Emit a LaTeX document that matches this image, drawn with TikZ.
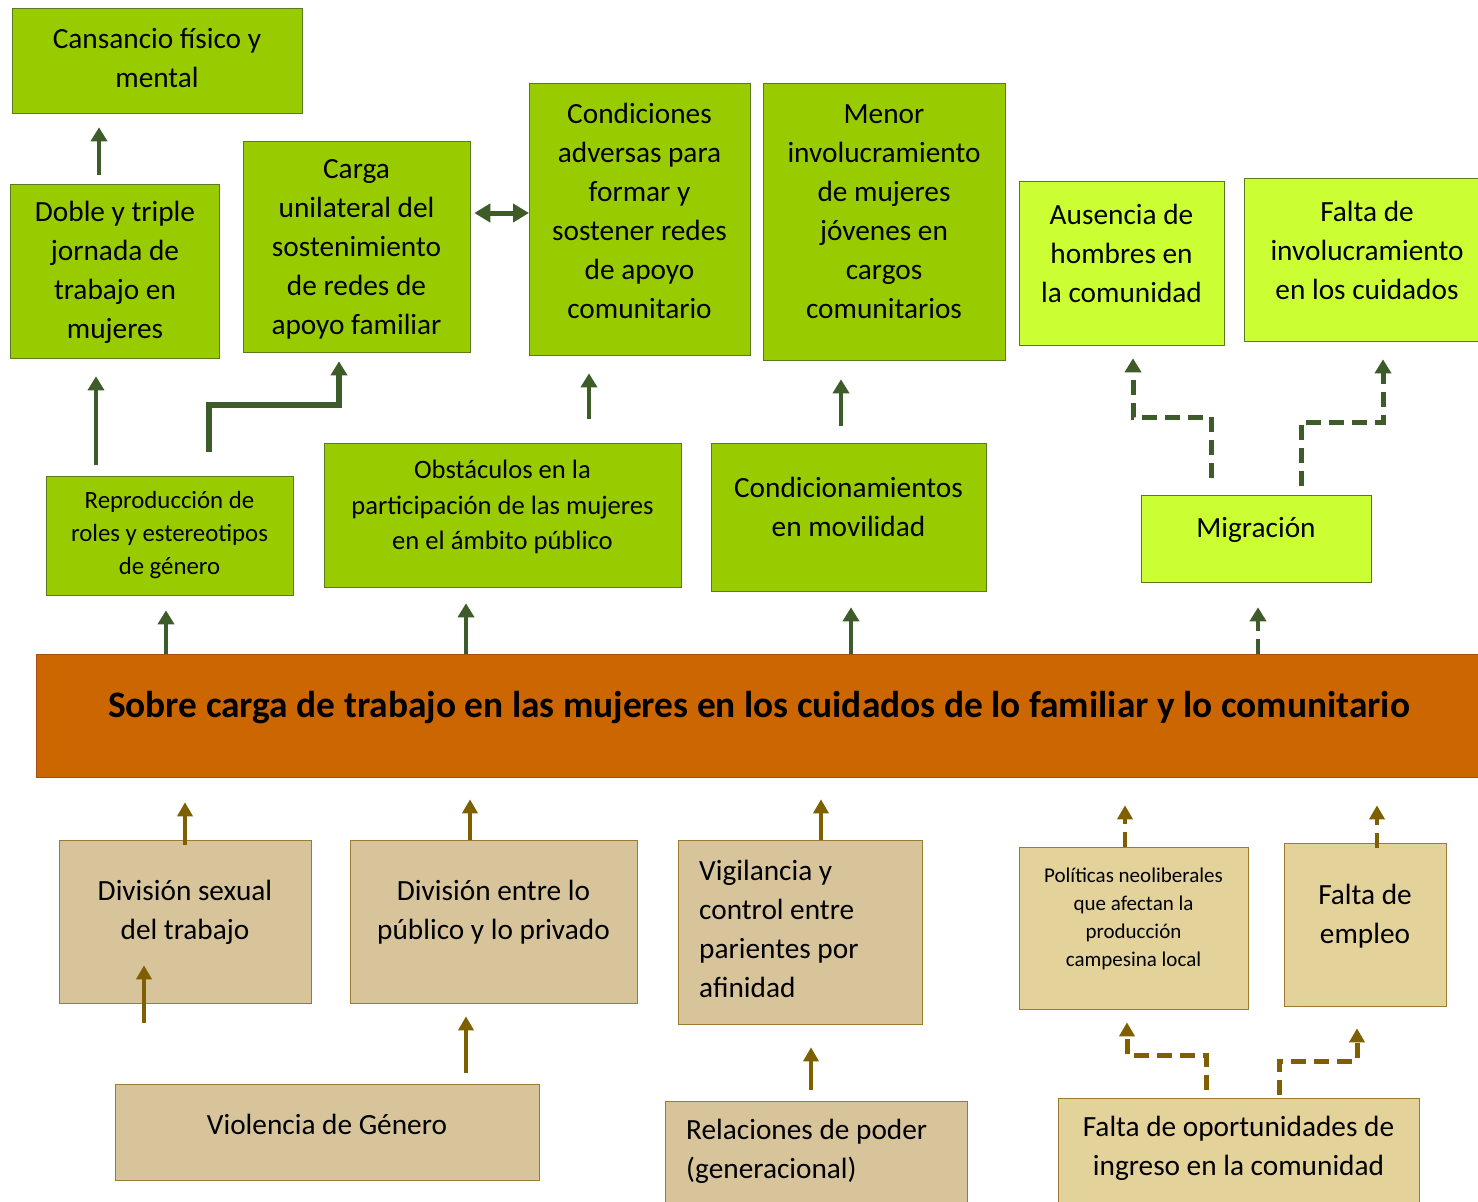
\documentclass[tikz,border=0pt]{standalone}
\usepackage{fontspec}
\setmainfont{Carlito}
\usetikzlibrary{arrows.meta}
\definecolor{gfill}{HTML}{99CC00}
\definecolor{lfill}{HTML}{CCFF33}
\definecolor{gline}{HTML}{5A7A1E}
\definecolor{garrc}{HTML}{3E5C2A}
\definecolor{ofill}{HTML}{CC6600}
\definecolor{oline}{HTML}{A0520F}
\definecolor{tfill}{HTML}{D7C49B}
\definecolor{tlfill}{HTML}{E4D29B}
\definecolor{tline}{HTML}{9A7B2F}
\definecolor{barrc}{HTML}{7F6000}
\tikzset{
  box/.style={draw, line width=1.3pt, inner sep=0pt, anchor=north west},
  gbox/.style={box, fill=gfill, draw=gline},
  lbox/.style={box, fill=lfill, draw=gline},
  obox/.style={box, fill=ofill, draw=oline},
  tbox/.style={box, fill=tfill, draw=tline},
  tlbox/.style={box, fill=tlfill, draw=tline},
  tbase/.style={align=center, inner sep=0pt, yshift=-1.5pt},
  txt/.style={tbase, font=\fontsize{29.3}{39}\selectfont},
  txtR/.style={tbase, font=\fontsize{24.8}{33}\selectfont},
  txtO/.style={tbase, font=\fontsize{26.6}{35.5}\selectfont},
  txtP/.style={tbase, font=\fontsize{21}{28}\selectfont},
  garr/.style={draw=garrc, line width=4pt, -{Triangle[width=16pt,length=14pt]}},
  barr/.style={draw=barrc, line width=4pt, -{Triangle[width=15pt,length=14pt]}},
  dsh/.style={dash pattern=on 15pt off 8pt},
  elb/.style={line width=5pt},
}
\begin{document}
\begin{tikzpicture}[x=1pt,y=-1pt]
\fill[white] (0,0) rectangle (1478,1202);
\useasboundingbox (0,0) rectangle (1478,1202);
% top row
\node[gbox, minimum width=290pt, minimum height=105pt] (cans) at (12,8) {};
\node[txt] (tcans) at (157,56.5) {Cansancio físico y\\mental};
\node[gbox, minimum width=209pt, minimum height=174pt] (doble) at (10,184) {};
\node[txt] (tdoble) at (115,271) {Doble y triple\\jornada de\\trabajo en\\mujeres};
\node[gbox, minimum width=227pt, minimum height=211pt] (carga) at (243,141) {};
\node[txt] (tcarga) at (356.5,247.5) {Carga\\unilateral del\\sostenimiento\\de redes de\\apoyo familiar};
\node[gbox, minimum width=221pt, minimum height=272pt] (cond) at (529,83) {};
\node[txt] (tcond) at (639.5,209) {Condiciones\\adversas para\\formar y\\sostener redes\\de apoyo\\comunitario};
\node[gbox, minimum width=242pt, minimum height=277pt] (menor) at (763,83) {};
\node[txt] (tmenor) at (884,210.5) {Menor\\involucramiento\\de mujeres\\jóvenes en\\cargos\\comunitarios};
\node[lbox, minimum width=205pt, minimum height=164pt] (aus) at (1019,181) {};
\node[txt] (taus) at (1121.5,252) {Ausencia de\\hombres en\\la comunidad};
\node[lbox, minimum width=246pt, minimum height=163pt] (finv) at (1244,178) {};
\node[txt] (tfinv) at (1367,248.5) {Falta de\\involucramiento\\en los cuidados};
% second row
\node[gbox, minimum width=247pt, minimum height=119pt] (repro) at (46,476) {};
\node[txtR] (trepro) at (169.5,533.5) {Reproducción de\\roles y estereotipos\\de género};
\node[gbox, minimum width=357pt, minimum height=144pt] (obst) at (324,443) {};
\node[txtO] (tobst) at (502.5,505.5) {Obstáculos en la\\participación de las mujeres\\en el ámbito público};
\node[gbox, minimum width=275pt, minimum height=148pt] (condm) at (711,443) {};
\node[txt] (tcondm) at (848.5,505.5) {Condicionamientos\\en movilidad};
\node[lbox, minimum width=230pt, minimum height=87pt] (migr) at (1141,495) {};
\node[txt] (tmigr) at (1256,528) {Migración};
% main
\node[obox, minimum width=1446pt, minimum height=123pt] (main) at (36,654) {};
\node[tbase, font=\fontsize{37.4}{44}\selectfont\bfseries] (tmain) at (759,706) {Sobre carga de trabajo en las mujeres en los cuidados de lo familiar y lo comunitario};
% bottom
\node[tbox, minimum width=252pt, minimum height=163pt] (divs) at (59,840) {};
\node[txt] (tdivs) at (185,911) {División sexual\\del trabajo};
\node[tbox, minimum width=287pt, minimum height=163pt] (dive) at (350,840) {};
\node[txt] (tdive) at (493.5,911) {División entre lo\\público y lo privado};
\node[tbox, minimum width=244pt, minimum height=184pt] (vig) at (678,840) {};
\node[txt, align=left, anchor=west] (tvig) at (699,927) {Vigilancia y\\control entre\\parientes por\\afinidad};
\node[tlbox, minimum width=229pt, minimum height=162pt] (pol) at (1019,847) {};
\node[txtP] (tpol) at (1133.5,917) {Políticas neoliberales\\que afectan la\\producción\\campesina local};
\node[tlbox, minimum width=162pt, minimum height=163pt] (emp) at (1284,843) {};
\node[txt] (temp) at (1365,914.5) {Falta de\\empleo};
\node[tbox, minimum width=424pt, minimum height=96pt] (viol) at (115,1084) {};
\node[txt] (tviol) at (327,1123) {Violencia de Género};
\node[tbox, minimum width=302pt, minimum height=110pt] (rel) at (665,1101) {};
\node[txt, align=left, anchor=west] (trel) at (686,1150) {Relaciones de poder\\(generacional)};
\node[tlbox, minimum width=361pt, minimum height=110pt] (fop) at (1058,1098) {};
\node[txt] (tfop) at (1238.5,1147) {Falta de oportunidades de\\ingreso en la comunidad};
% green arrows
\draw[garr, shorten <=9pt, shorten >=13pt] (doble.north -| 99,0) -- (cans.south -| 99,0);
\draw[garr, shorten <=11pt, shorten >=17pt] (repro.north -| 96,0) -- (doble.south -| 96,0);
\draw[garr, line width=5.5pt, shorten <=24pt, shorten >=8pt] (repro.north -| 209,0) -- (209,405) -| (carga.south -| 339,0);
\draw[draw=garrc, line width=5pt, {Triangle[width=18pt,length=16pt]}-{Triangle[width=18pt,length=16pt]}, shorten <=3pt] (carga.east |- 0,213) -- (cond.west |- 0,213);
\draw[garr, shorten <=24pt, shorten >=17pt] (obst.north -| 589,0) -- (cond.south -| 589,0);
\draw[garr, shorten <=17pt, shorten >=18pt] (condm.north -| 841,0) -- (menor.south -| 841,0);
\draw[garr, shorten >=14pt] (main.north -| 166,0) -- (repro.south -| 166,0);
\draw[garr, shorten >=15pt] (main.north -| 466,0) -- (obst.south -| 466,0);
\draw[garr, shorten >=15pt] (main.north -| 851,0) -- (condm.south -| 851,0);
\draw[garr, dsh, shorten >=24pt] (main.north -| 1258,0) -- (migr.south -| 1258,0);
\draw[garr, dsh, elb, shorten <=17pt, shorten >=12pt] (migr.north -| 1211,0) -- (1211,417) -| (aus.south -| 1133,0);
\draw[garr, dsh, elb, shorten <=9pt, shorten >=17pt] (migr.north -| 1301,0) -- (1301,422) -| (finv.south -| 1383,0);
% brown arrows
\draw[barr, shorten <=-5pt, shorten >=24pt] (divs.north -| 185,0) -- (main.south -| 185,0);
\draw[barr, shorten <=61pt, shorten >=-39pt] (viol.north -| 144,0) -- (divs.south -| 144,0);
\draw[barr, shorten >=21pt] (dive.north -| 470,0) -- (main.south -| 470,0);
\draw[barr, shorten <=11pt, shorten >=12pt] (viol.north -| 466,0) -- (dive.south -| 466,0);
\draw[barr, shorten >=21pt] (vig.north -| 821,0) -- (main.south -| 821,0);
\draw[barr, shorten <=11pt, shorten >=22pt] (rel.north -| 811,0) -- (vig.south -| 811,0);
\draw[barr, dsh, shorten >=27pt] (pol.north -| 1125,0) -- (main.south -| 1125,0);
\draw[barr, dsh, shorten <=-5pt, shorten >=27pt] (emp.north -| 1377,0) -- (main.south -| 1377,0);
\draw[barr, dsh, elb, shorten <=8pt, shorten >=12pt] (fop.north -| 1206,0) -- (1206,1055) -| (pol.south -| 1127,0);
\draw[barr, dsh, elb, shorten <=3pt, shorten >=21pt] (fop.north -| 1279,0) -- (1279,1061) -| (emp.south -| 1357,0);
\end{tikzpicture}
\end{document}
